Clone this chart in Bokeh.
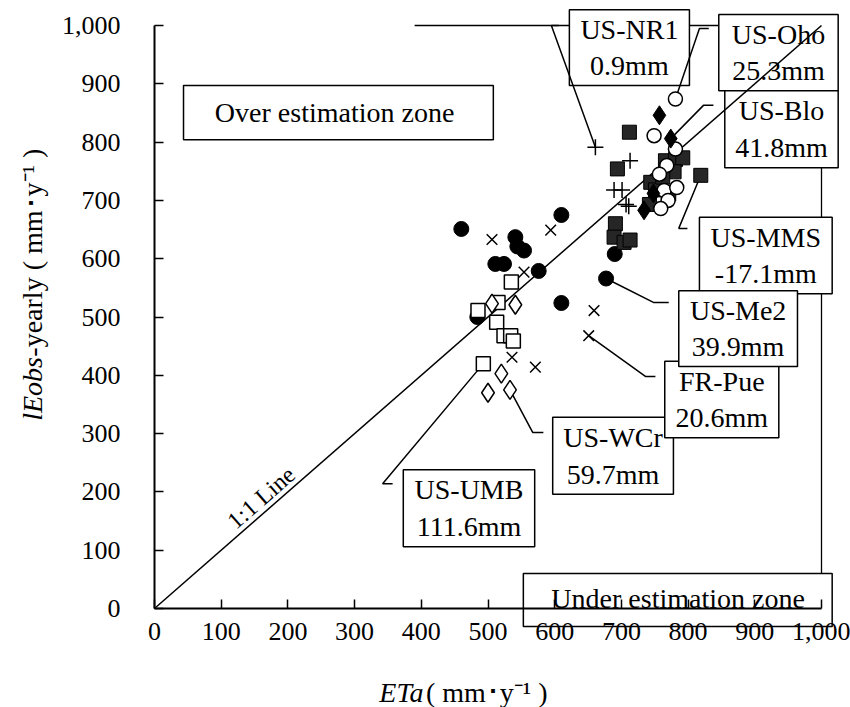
import math
from bokeh.plotting import figure
from bokeh.models import Range1d, FixedTicker, NumeralTickFormatter, Label
from bokeh.embed import file_html
from bokeh.resources import INLINE

# ---------------- data ----------------
ticks = [0, 100, 200, 300, 400, 500, 600, 700, 800, 900, 1000]

nr1_x = [661, 713, 689, 701, 711, 707]
nr1_y = [791, 768, 718, 718, 690, 693]

oho_x = [781, 749, 781, 768, 757, 764, 783, 770, 759]
oho_y = [874, 811, 788, 760, 745, 717, 722, 700, 686]

blo_x = [757, 774, 734, 748]
blo_y = [846, 806, 683, 712]

mms_x = [712, 694, 766, 781, 792, 779, 819, 771, 744, 751, 762, 691, 689, 704, 713, 742]
mms_y = [817, 754, 768, 770, 773, 749, 743, 711, 731, 718, 740, 660, 637, 628, 632, 693]

me2_x = [460, 484, 511, 524, 541, 544, 554, 576, 610, 610, 677, 690]
me2_y = [651, 500, 591, 591, 637, 621, 614, 579, 675, 524, 566, 608]

pue_x = [506, 554, 594, 659, 651, 536, 571]
pue_y = [633, 577, 649, 511, 468, 431, 414]

wcr_x = [506, 541, 520, 500, 533]
wcr_y = [523, 521, 403, 370, 375]

umb_x = [535, 515, 485, 513, 524, 534, 538, 493]
umb_y = [560, 525, 511, 491, 468, 468, 459, 420]

sites = ["US-NR1", "US-Oho", "US-Blo", "US-MMS", "US-Me2", "FR-Pue", "US-WCr", "US-UMB"]
diffs = ["0.9mm", "25.3mm", "41.8mm", "-17.1mm", "39.9mm", "20.6mm", "59.7mm", "111.6mm"]

# ---------------- figure ----------------
FONT = "Liberation Serif"
W, H = 850, 707
# pixel placement of the 0..1000 axis box inside the canvas
AX_L, AX_R, AX_T, AX_B = 154, 821, 25, 608
sx = (AX_R - AX_L) / 1000.0
sy = (AX_B - AX_T) / 1000.0

p = figure(width=W, height=H,
           x_range=Range1d(-AX_L / sx, 1000 + (W - AX_R) / sx),
           y_range=Range1d(-(H - AX_B) / sy, 1000 + AX_T / sy),
           output_backend="svg", toolbar_location=None, title=None,
           min_border_left=0, min_border_right=0, min_border_top=0, min_border_bottom=0)
p.grid.visible = False
p.outline_line_color = None
p.background_fill_color = "white"
p.border_fill_color = "white"

for ax in (p.xaxis[0], p.yaxis[0]):
    ax.fixed_location = 0
    ax.bounds = (0, 1000)
    ax.ticker = FixedTicker(ticks=ticks)
    ax.formatter = NumeralTickFormatter(format="0,0")
    ax.major_label_text_font = FONT
    ax.major_label_text_font_size = "26px"
    ax.major_label_text_color = "black"
    ax.axis_line_width = 2
    ax.axis_line_color = "black"
    ax.major_tick_in = 9
    ax.major_tick_out = 0
    ax.major_tick_line_width = 1.5
    ax.major_tick_line_color = "black"
    ax.minor_tick_line_color = None
p.xaxis[0].major_label_standoff = 14
p.yaxis[0].major_label_standoff = 34

# frame lines (top / right), partly hidden behind label boxes
p.segment(x0=[1000, 390], y0=[0, 1000], x1=[1000, 1000], y1=[1000, 1000],
          line_color="black", line_width=1.3)

# label boxes (left, right, bottom, top) in data units, drawn bottom-most first
boxes = {
    "over":   (43.5, 508, 804, 897),
    "under":  (553, 1016, -31, 60),
    "US-WCr": (597, 778, 196, 328),
    "FR-Pue": (765, 936, 293, 424),
    "US-MMS": (817, 1016, 540, 671),
    "US-Me2": (786, 964, 415, 545),
    "US-UMB": (373, 570, 106, 238),
    "US-NR1": (622, 802, 897, 1027),
    "US-Oho": (846, 1025, 888, 1019),
    "US-Blo": (855, 1025, 756, 888),
}
bl = [v[0] for v in boxes.values()]
br = [v[1] for v in boxes.values()]
bb = [v[2] for v in boxes.values()]
bt = [v[3] for v in boxes.values()]
p.quad(left=bl, right=br, bottom=bb, top=bt, fill_color="white", fill_alpha=1.0,
       line_color="black", line_width=1.5)

# 1:1 line
p.line([ticks[0], ticks[-1]], [ticks[0], ticks[-1]], line_color="black", line_width=1.5)

# leader lines (from point to label box)
leaders = [
    ([661, 595, 606], [791, 1000, 1000]),
    ([781, 817, 831], [874, 995, 995]),
    ([774, 823, 838], [806, 863, 863]),
    ([819, 786, 799], [743, 652, 652]),
    ([677, 748, 771], [566, 525, 525]),
    ([651, 736, 751], [468, 398, 398]),
    ([533, 567, 583], [375, 302, 302]),
    ([493, 342, 357], [420, 214, 214]),
]
for lx, ly in leaders:
    p.line(lx, ly, line_color="black", line_width=1.5)

# markers
p.scatter(me2_x, me2_y, marker="circle", size=15, fill_color="black", line_color="black")
p.scatter(mms_x, mms_y, marker="square", size=14, fill_color="#262626", line_color="black", line_width=1)
p.scatter(umb_x, umb_y, marker="square", size=14, fill_color="white", line_color="black", line_width=1.5)
p.scatter(wcr_x, wcr_y, marker="diamond", size=19, fill_color="white", line_color="black", line_width=1.5)
p.scatter(oho_x, oho_y, marker="circle", size=14, fill_color="white", line_color="black", line_width=1.5)
p.scatter(blo_x, blo_y, marker="diamond", size=19, fill_color="black", line_color="black")
p.scatter(pue_x, pue_y, marker="x", size=15, line_color="black", line_width=1.5)
p.scatter(nr1_x, nr1_y, marker="cross", size=16, line_color="black", line_width=1.5)


def lab(x, y, text, size="28px", style="normal", align="center", angle=0.0, baseline="middle"):
    p.add_layout(Label(x=x, y=y, x_units="data", y_units="data", text=text,
                       text_font=FONT, text_font_size=size, text_font_style=style,
                       text_align=align, text_baseline=baseline, angle=angle,
                       text_color="black", text_line_height=1.18))


for s, d in zip(sites, diffs):
    l, r, b, t = boxes[s]
    lab((l + r) / 2, (b + t) / 2, s + "\n" + d)

lab(270, 850, "Over estimation zone")
lab(785, 17, "Under estimation zone")

ang = math.atan2(583, 667)
lab(160, 190, "1:1 Line", size="24px", angle=ang)

# axis titles
lab(337, -144, "ETa", style="italic", align="left")
lab(407, -144, " ( mm･y⁻¹ )", align="left")
lab(-183, 322, "lEobs", style="italic", align="left", angle=math.pi / 2)
lab(-183, 432, "-yearly ( mm･y⁻¹ )", align="left", angle=math.pi / 2)

open("out.html", "w").write(file_html(p, INLINE))
